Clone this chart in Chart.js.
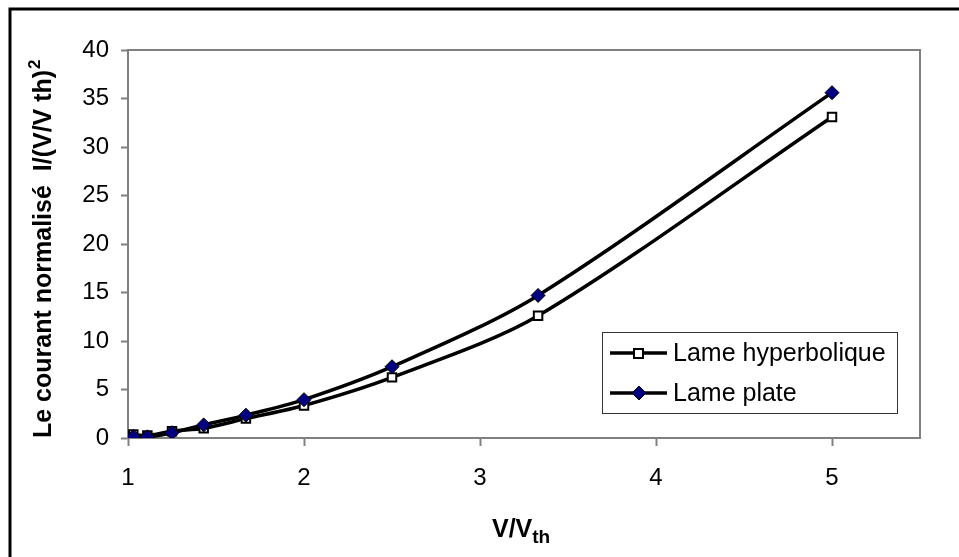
<!DOCTYPE html>
<html>
<head>
<meta charset="utf-8">
<script src="https://cdn.jsdelivr.net/npm/chart.js@4"></script>
<style>
  html, body { margin: 0; padding: 0; background: #fff; }
  #chart { display: block; }
</style>
</head>
<body>
<canvas id="chart" width="959" height="557"></canvas>
<script>
// values
const ratios = [1.03, 1.11, 1.25, 1.43, 1.67, 2, 2.5, 3.33, 5];
const hyperbolique = [0.35, 0.25, 0.7, 1.0, 2.0, 3.35, 6.25, 12.6, 33.1];
const plate = [0.15, 0.12, 0.55, 1.35, 2.35, 3.95, 7.35, 14.7, 35.6];
const seriesNames = ['Lame hyperbolique', 'Lame plate'];
const yTitle = 'Le courant normalisé  I/(V/V th)';
const FONT = '"Liberation Sans", Arial, sans-serif';

function points(values) {
    return ratios.map(function(x, i) { return {x: x, y: values[i]}; });
}

// frame, plot box, axis titles and the boxed legend
const decor = {
    id: 'decor',
    beforeDraw: function(chart) {
        const c = chart.ctx, a = chart.chartArea;
        c.save();
        c.strokeStyle = '#000';
        c.lineWidth = 3;
        c.strokeRect(10, 9, 1200, 1200);
        c.strokeStyle = '#808080';
        c.lineWidth = 2;
        c.strokeRect(a.left, a.top, a.right - a.left, a.bottom - a.top);
        c.restore();
    },
    afterDraw: function(chart) {
        const c = chart.ctx;
        c.save();
        c.fillStyle = '#000';

        // y title, rotated, with superscript 2
        c.translate(44, 438);
        c.rotate(-Math.PI / 2);
        c.font = 'bold 25px ' + FONT;
        c.textBaseline = 'middle';
        c.textAlign = 'left';
        c.fillText(yTitle, 0, 0);
        let w = c.measureText(yTitle).width;
        c.font = 'bold 17px ' + FONT;
        c.fillText('2', w + 1, -9);
        c.setTransform(1, 0, 0, 1, 0, 0);

        // x title V/V_th
        c.font = 'bold 25px ' + FONT;
        c.textBaseline = 'alphabetic';
        c.fillText('V/V', 492, 537);
        w = c.measureText('V/V').width;
        c.font = 'bold 19px ' + FONT;
        c.fillText('th', 492 + w, 543);

        // legend
        c.strokeStyle = '#333';
        c.lineWidth = 1;
        c.strokeRect(602.5, 332.5, 295, 81);
        const rows = [353, 393];
        chart.data.datasets.forEach(function(ds, i) {
            const y = rows[i];
            c.strokeStyle = ds.borderColor;
            c.lineWidth = 3.5;
            c.beginPath();
            c.moveTo(610, y);
            c.lineTo(667, y);
            c.stroke();
            c.fillStyle = ds.pointBackgroundColor;
            c.strokeStyle = ds.pointBorderColor;
            c.lineWidth = ds.pointBorderWidth;
            c.beginPath();
            if (ds.pointStyle == 'rect') {
                c.rect(634, y - 4, 9, 9);
            } else {
                c.moveTo(639, y - 7);
                c.lineTo(646, y);
                c.lineTo(639, y + 7);
                c.lineTo(632, y);
                c.closePath();
            }
            c.fill();
            c.stroke();
            c.fillStyle = '#000';
            c.font = '25px ' + FONT;
            c.textBaseline = 'middle';
            c.fillText(ds.label, 673, y + 1);
        });
        c.restore();
    }
};

new Chart(document.getElementById('chart'), {
    type: 'line',
    data: {
        datasets: [{
            label: seriesNames[0],
            data: points(hyperbolique),
            borderColor: '#000',
            borderWidth: 3.5,
            tension: 0.3,
            pointStyle: 'rect',
            pointRadius: 6,
            pointBackgroundColor: '#fff',
            pointBorderColor: '#000',
            pointBorderWidth: 2,
            order: 1
        }, {
            label: seriesNames[1],
            data: points(plate),
            borderColor: '#000',
            borderWidth: 3.5,
            tension: 0.3,
            pointStyle: 'rectRot',
            pointRadius: 7,
            pointBackgroundColor: '#000080',
            pointBorderColor: '#000',
            pointBorderWidth: 1,
            order: 0
        }]
    },
    options: {
        responsive: false,
        animation: false,
        layout: { padding: { top: 50, right: 39, left: 0, bottom: 0 } },
        plugins: { legend: { display: false }, tooltip: { enabled: false } },
        scales: {
            x: {
                type: 'linear',
                min: 1,
                max: 5.5,
                afterFit: function(s) { s.height = 119; },
                afterBuildTicks: function(s) {
                    s.ticks = s.ticks.filter(function(t) { return Number.isInteger(t.value); });
                },
                ticks: { stepSize: 1, includeBounds: false, color: '#000', padding: 18,
                         font: { family: FONT, size: 24 }, maxRotation: 0 },
                grid: { drawOnChartArea: false, tickLength: 8, tickColor: '#808080', tickWidth: 2 },
                border: { color: '#808080', width: 2 }
            },
            y: {
                min: 0,
                max: 40,
                afterFit: function(s) { s.width = 128; },
                ticks: { stepSize: 5, color: '#000', padding: 12,
                         font: { family: FONT, size: 24 } },
                grid: { drawOnChartArea: false, tickLength: 7, tickColor: '#808080', tickWidth: 2 },
                border: { color: '#808080', width: 2 }
            }
        }
    },
    plugins: [decor]
});
</script>
</body>
</html>
